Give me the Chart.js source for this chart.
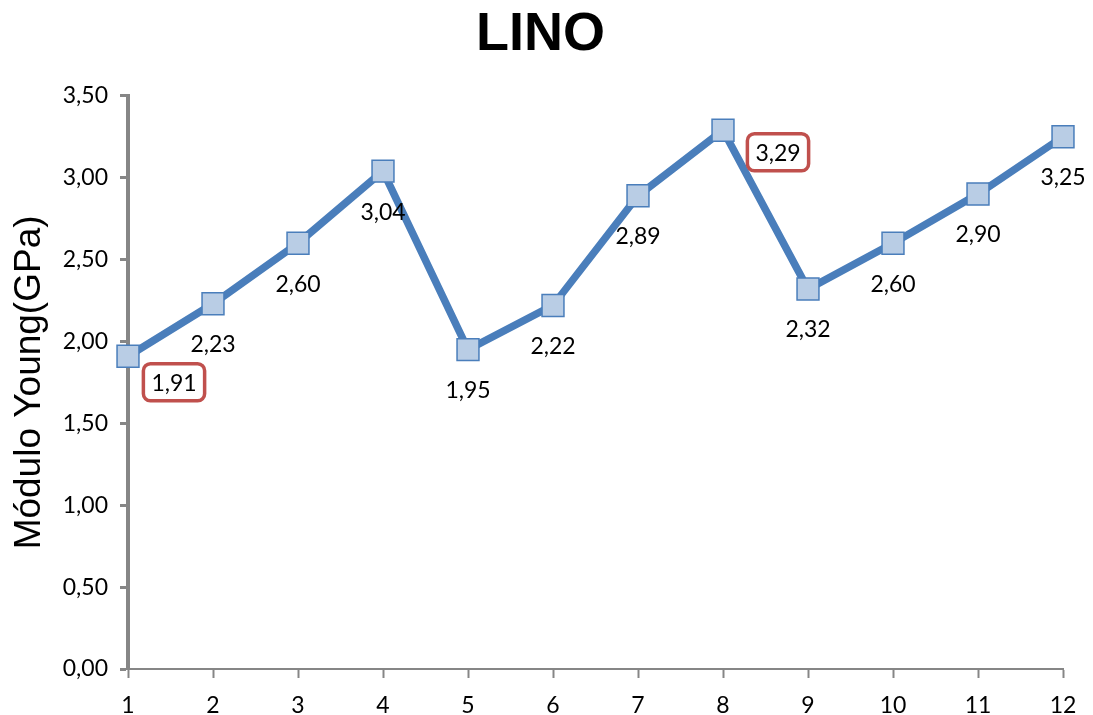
<!DOCTYPE html>
<html>
<head>
<meta charset="utf-8">
<script src="https://cdn.jsdelivr.net/npm/chart.js@4"></script>
<style>
	html, body { margin: 0; padding: 0; background: #fff; }
	#wrap { width: 1093px; height: 715px; }
</style>
</head>
<body>
<div id="wrap"><canvas id="chart"></canvas></div>
<script>
const Samples = [ 1, 2, 3, 4, 5, 6, 7, 8, 9, 10, 11, 12 ];
const YoungValues = [ 1.91, 2.23, 2.60, 3.04, 1.95, 2.22, 2.89, 3.29, 2.32, 2.60, 2.90, 3.25 ];
const BoxedPoints = [ 0, 7 ];	// min and max are framed

const TickFont = { family: "Lato", size: 23 };

function FormatComma(v)
{
	return v.toFixed(2).replace(".", ",");
}

const valueLabels = {
	id: "valueLabels",
	afterDatasetsDraw(chart, args, options)
	{
		const ctx = chart.ctx;
		const meta = chart.getDatasetMeta(0);
		ctx.save();
		ctx.font = TickFont.size + "px " + TickFont.family;
		ctx.textAlign = "center";
		ctx.textBaseline = "middle";
		meta.data.forEach((pt, i) =>
		{
			const boxed = BoxedPoints.includes(i);
			const off = boxed ? options.boxOffsets[BoxedPoints.indexOf(i)] : [0, 40];
			const x = pt.x + off[0];
			const y = pt.y + off[1];
			const text = FormatComma(YoungValues[i]);
			if (boxed)
			{
				const w = ctx.measureText(text).width + 16;
				const h = 37;
				ctx.beginPath();
				ctx.roundRect(x - w / 2, y - h / 2, w, h, 7);
				ctx.fillStyle = "#fff";
				ctx.fill();
				ctx.lineWidth = 3.5;
				ctx.strokeStyle = "#C0504D";
				ctx.stroke();
			}
			ctx.fillStyle = "#000";
			ctx.fillText(text, x, y + 1);
		});
		ctx.restore();
	}
};

new Chart(document.getElementById("chart"), {
	type: "line",
	data: {
		labels: Samples,
		datasets: [{
			data: YoungValues,
			borderColor: "#4A7EBB",
			borderWidth: 7.5,
			pointStyle: "rect",
			pointRadius: 15.5,
			pointHoverRadius: 15.5,
			pointBackgroundColor: "#B9CDE5",
			pointBorderColor: "#4A7EBB",
			pointBorderWidth: 1.5,
			tension: 0,
			clip: false,
		}]
	},
	options: {
		responsive: true,
		maintainAspectRatio: false,
		animation: false,
		layout: { padding: { right: 12, left: 0, bottom: 0 } },
		plugins: {
			legend: { display: false },
			tooltip: { enabled: false },
			title: {
				display: true,
				text: "LINO",
				color: "#000",
				font: { family: "Liberation Sans", size: 54, weight: "bold" },
				padding: { top: 3, bottom: 28 },
			},
			valueLabels: {
				boxOffsets: [ [46, 26], [55, 22] ],
			},
		},
		scales: {
			x: {
				type: "linear",
				min: 1,
				max: 12,
				afterFit(scale) { scale.height = 46; },
				ticks: { stepSize: 1, color: "#000", font: TickFont, padding: 14, maxRotation: 0 },
				grid: { drawOnChartArea: false, color: "#868686", tickLength: 9, tickWidth: 2 },
				border: { color: "#868686", width: 2 },
			},
			y: {
				min: 0,
				max: 3.5,
				afterFit(scale) { scale.width = 128; },
				ticks: {
					stepSize: 0.5,
					color: "#000",
					font: TickFont,
					padding: 12,
					callback: v => FormatComma(v),
				},
				grid: { drawOnChartArea: false, color: "#868686", tickLength: 8, tickWidth: 3 },
				border: { color: "#868686", width: 4 },
				title: {
					display: true,
					text: "Módulo Young(GPa)",
					color: "#000",
					font: { family: "Liberation Sans", size: 37 },
					padding: { top: 8, bottom: 0 },
				},
			},
			// empty strip on the right, keeps the title centred on the page
			spare: {
				position: "right",
				afterFit(scale) { scale.width = 18; },
				ticks: { display: false },
				grid: { display: false },
				border: { display: false },
			},
		},
	},
	plugins: [ valueLabels ],
});
</script>
</body>
</html>
